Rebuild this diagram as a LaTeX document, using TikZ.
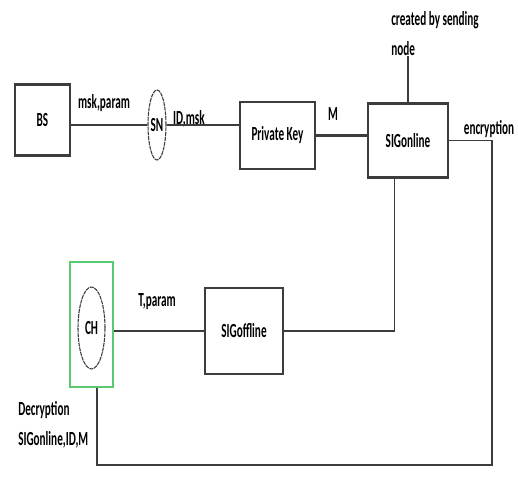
\documentclass[tikz,border=0pt]{standalone}
\usepackage{fontspec}
\setmainfont[FakeStretch=0.56]{Carlito}
\usepackage{tikz}
\usetikzlibrary{shapes.geometric, positioning}
\definecolor{boxgreen}{RGB}{90,200,110}
\definecolor{linegray}{RGB}{60,60,60}
\tikzset{
  block/.style={rectangle, draw=linegray, line width=0.9pt, fill=white,
                inner sep=0pt, font=\fontsize{15}{17}\selectfont\bfseries},
  heavyblock/.style={block,
                append after command={
                  (\tikzlastnode.north west) edge[line width=2pt, draw=linegray] (\tikzlastnode.north east)
                  (\tikzlastnode.south west) edge[line width=2pt, draw=linegray] (\tikzlastnode.south east)}},
  party/.style={ellipse, draw=linegray, line width=0.8pt, dash pattern=on 3pt off 0.6pt,
                inner sep=0pt, font=\fontsize{15}{17}\selectfont\bfseries},
  frame/.style={rectangle, draw=boxgreen, line width=1.2pt, inner sep=0pt},
  lbl/.style={inner sep=0pt, font=\fontsize{15}{17}\selectfont\bfseries},
  thinline/.style={draw=linegray, line width=1pt},
  thickline/.style={draw=linegray, line width=2pt},
}
\begin{document}
\begin{tikzpicture}[x=0.75pt, y=-0.75pt]
  \useasboundingbox (0,0) rectangle (518,495);

  % top row
  \node[heavyblock, minimum width=41.25pt, minimum height=52.5pt] (bs) at (42.5,120) {BS};
  \node[party, minimum width=13.5pt, minimum height=52.5pt] (sn) at (157,125) {SN};
  \node[block, minimum width=56.25pt, minimum height=50.25pt] (pk) at (277.5,135.5) {Private Key};
  \node[heavyblock, minimum width=60pt, minimum height=54.75pt] (sigon) at (408,140.5) {SIGonline};
  \node[lbl, align=left, anchor=north west,
        font=\fontsize{15}{22.5}\selectfont\bfseries] (note) at (391,11) {created by sending\\node};

  % bottom row
  \node[frame, minimum width=32.25pt, minimum height=93.75pt] (chbox) at (91.5,324.5) {};
  \node[party, minimum width=20.25pt, minimum height=61.5pt] (ch) at (91.5,328) {CH};
  \node[block, minimum width=58.5pt, minimum height=64.5pt] (sigoff) at (244,331) {SIGoffline};

  % labels
  \node[lbl] (lmskparam) at (104,103) {msk,param};
  \node[lbl] (lidmsk) at (189,119) {ID,msk};
  \node[lbl] (lm) at (333,114) {M};
  \node[lbl] (lenc) at (489,129) {encryption};
  \node[lbl] (ltparam) at (157,302) {T,param};
  \node[lbl, anchor=west] (ldec) at (18,410) {Decryption};
  \node[lbl, anchor=west] (lsig) at (18,440) {SIGonline,ID,M};

  \coordinate (loopne) at (492,465);
  \coordinate (loopsw) at (97,465);

  % connectors
  \draw[thinline] (sn.west -| bs.east) -- (sn.west);
  \draw[thinline] (sn.east) -- (sn.east -| pk.west);
  \draw[thickline] (pk.east) -- (pk.east -| sigon.west);
  \draw[thinline] (sigon.north) -- (sigon.north |- note.south);
  \draw[thinline] (sigon.east) -| (loopne) -- (loopsw) -- (loopsw |- chbox.south);
  \draw[thinline] ([xshift=-10pt]sigon.south) -- ([xshift=-10pt]sigon.south |- sigoff.east);
  \draw[thickline] (sigoff.east) -- ([xshift=-10pt]sigoff.east -| sigon.south);
  \draw[thickline] (sigoff.west -| chbox.east) -- (sigoff.west);
\end{tikzpicture}
\end{document}
